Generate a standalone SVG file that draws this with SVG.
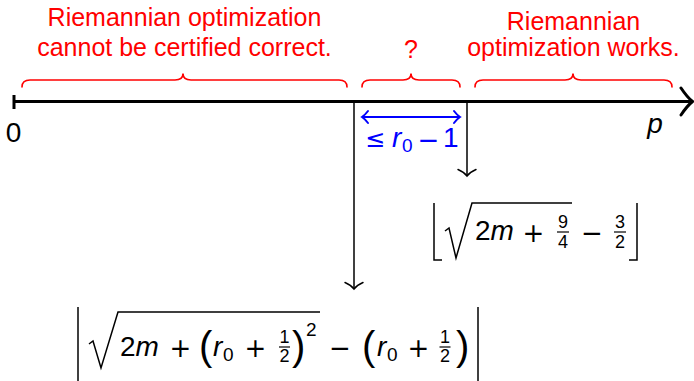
<svg xmlns="http://www.w3.org/2000/svg" width="694" height="381" viewBox="0 0 694 381">
<defs>
<style>
.lbl{font-family:"Liberation Sans",Arial,sans-serif;font-size:25px;fill:#ff0000;text-anchor:middle}
.m{font-family:"Liberation Sans",Arial,sans-serif;font-size:28px;fill:#000}
.op{font-family:"DejaVu Sans","Liberation Sans",sans-serif;font-size:26px;fill:#000;text-anchor:middle}
.fr{font-family:"Liberation Sans",Arial,sans-serif;font-size:18px;fill:#000;text-anchor:middle}
.sub{font-family:"Liberation Sans",Arial,sans-serif;font-size:19px}
.par{font-family:"Liberation Sans",Arial,sans-serif;font-size:40px;fill:#000}
.it{font-style:italic}
.brace{fill:none;stroke:#ff0000;stroke-width:1.6;stroke-linecap:round}
.thin{fill:none;stroke:#000;stroke-width:1.5}
.ah{fill:none;stroke:#000;stroke-width:1.5;stroke-linecap:round}
.blue{fill:#0000ff}
</style>
</defs>

<g id="axis">
<line x1="14" y1="101.5" x2="691" y2="101.5" stroke="#000" stroke-width="3"/>
<line x1="14" y1="95" x2="14" y2="109" stroke="#000" stroke-width="3"/>
<path d="M681,88 Q687,97 692.5,101.5 Q687,106 681,115" fill="none" stroke="#000" stroke-width="3" stroke-linecap="round"/>
<text class="m" x="13.5" y="142" text-anchor="middle">0</text>
<text class="m it" x="655" y="133" text-anchor="middle" font-size="27">p</text>
</g>

<g id="brace-left">
<path class="brace" d="M22,87 Q22,80 30,80 L175,80 Q183,80 183,73.5 Q183,80 191,80 L339,80 Q347,80 347,87"/>
<text class="lbl" x="184.5" y="26">Riemannian optimization</text>
<text class="lbl" x="184.5" y="56">cannot be certified correct.</text>
</g>

<g id="brace-middle">
<path class="brace" d="M362,87 Q362,80 370,80 L403,80 Q411,80 411,73.5 Q411,80 419,80 L452,80 Q460,80 460,87"/>
<text class="lbl" x="411" y="58">?</text>
</g>

<g id="brace-right">
<path class="brace" d="M475,87 Q475,80 483,80 L565,80 Q573,80 573,73.5 Q573,80 581,80 L664,80 Q672,80 672,87"/>
<text class="lbl" x="573.5" y="29.5">Riemannian</text>
<text class="lbl" x="573.5" y="55.5">optimization works.</text>
</g>

<g id="connectors">
<line class="thin" x1="354" y1="102" x2="354" y2="288.5"/>
<path class="ah" d="M345,282.5 Q351,285 354,289 Q357,285 363,282.5"/>
<line class="thin" x1="467" y1="102" x2="467" y2="175.5"/>
<path class="ah" d="M458,169.5 Q464,172 467,176 Q470,172 476,169.5"/>
<g id="gap-arrow" stroke="#0000ff" fill="none" stroke-width="2" stroke-linecap="round">
<line x1="363" y1="117" x2="459" y2="117"/>
<path d="M368,111 Q365,115 362,117 Q365,119 368,123"/>
<path d="M454,111 Q457,115 460,117 Q457,119 454,123"/>
</g>
</g>

<g id="gap-label">
<text class="blue" x="365" y="147" font-family="DejaVu Sans, sans-serif" font-size="24">≤</text>
<text class="m it blue" x="392" y="147" style="fill:#0000ff">r</text>
<text class="sub blue" x="402" y="152">0</text>
<text class="op" x="428.5" y="149" style="fill:#0000ff">−</text>
<text class="m" x="443" y="147" style="fill:#0000ff">1</text>
</g>

<g id="formula-upper">
<path class="thin" d="M442,260 L434,260 L434,203"/>
<path class="thin" d="M629,260 L637,260 L637,203"/>
<path d="M445,231 L449,228 L456,258 L472,203 L572,203" fill="none" stroke="#000" stroke-width="1.5"/>
<text class="m" x="475" y="240">2<tspan class="it">m</tspan></text>
<text class="op" x="533.5" y="242">+</text>
<text class="fr" x="563" y="228">9</text>
<line x1="557" y1="232" x2="569" y2="232" stroke="#000" stroke-width="1.2"/>
<text class="fr" x="563" y="248">4</text>
<text class="op" x="592" y="242">−</text>
<text class="fr" x="620" y="228">3</text>
<line x1="614" y1="232" x2="626" y2="232" stroke="#000" stroke-width="1.2"/>
<text class="fr" x="620" y="248">2</text>
</g>

<g id="formula-lower">
<line class="thin" x1="78" y1="307" x2="78" y2="385"/>
<line class="thin" x1="478" y1="307" x2="478" y2="385"/>
<path d="M89,344 L93,341 L101,368 L118,312 L320,312" fill="none" stroke="#000" stroke-width="1.5"/>
<text class="m" x="120" y="356">2<tspan class="it">m</tspan></text>
<text class="op" x="180.5" y="357">+</text>
<text class="par" x="199" y="360">(</text>
<text class="m it" x="213" y="356">r</text>
<text class="sub" x="223" y="361">0</text>
<text class="op" x="255.5" y="357">+</text>
<text class="fr" x="284.5" y="343">1</text>
<line x1="279" y1="347" x2="290" y2="347" stroke="#000" stroke-width="1.2"/>
<text class="fr" x="284.5" y="362">2</text>
<text class="par" x="292" y="360">)</text>
<text class="sub" x="306" y="336">2</text>
<text class="op" x="340" y="357">−</text>
<text class="par" x="362" y="360">(</text>
<text class="m it" x="377" y="356">r</text>
<text class="sub" x="387" y="361">0</text>
<text class="op" x="418.5" y="357">+</text>
<text class="fr" x="445" y="343">1</text>
<line x1="439.5" y1="347" x2="450.5" y2="347" stroke="#000" stroke-width="1.2"/>
<text class="fr" x="445" y="362">2</text>
<text class="par" x="456" y="360">)</text>
</g>
</svg>
